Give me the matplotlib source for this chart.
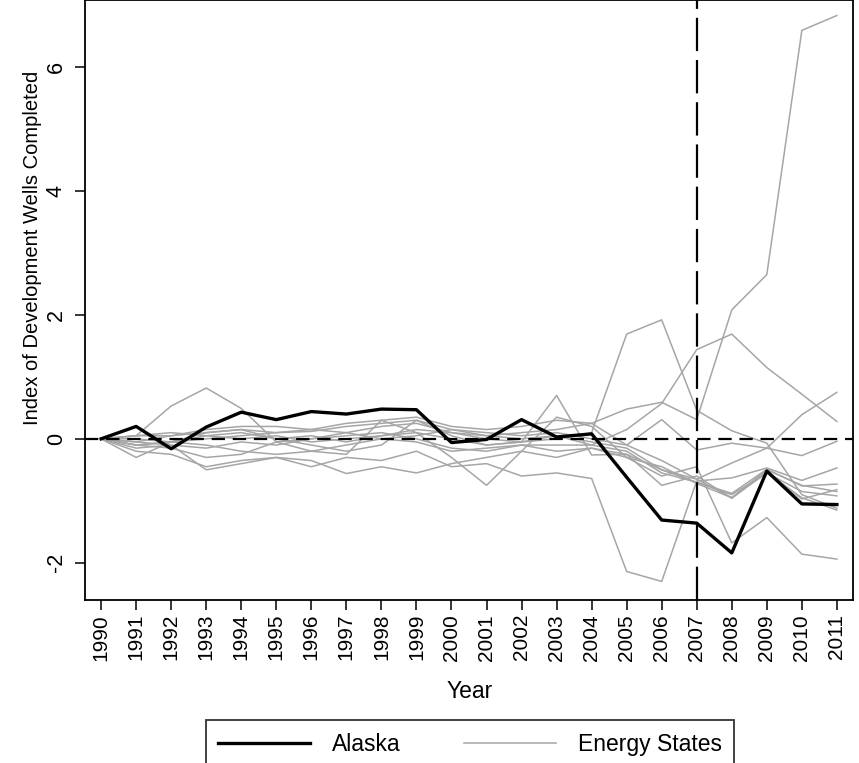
import numpy as np
import matplotlib
matplotlib.use("Agg")
import matplotlib.pyplot as plt

plt.rcParams['font.family'] = ['Liberation Sans', 'DejaVu Sans']

years = list(range(1990, 2012))

alaska = [0, 0.20, -0.16, 0.19, 0.43, 0.31, 0.44, 0.40, 0.48, 0.47, -0.06, -0.01,
          0.31, 0.03, 0.08, -0.62, -1.31, -1.36, -1.84, -0.52, -1.05, -1.06]

# comparison "energy states" (grey lines)
state_01 = [0, -0.05, 0.05, 0.10, 0.15, 0.10, 0.12, 0.20, 0.25, 0.30, 0.15, 0.05,
            0.10, 0.15, 0.25, 0.48, 0.59, 0.31, 2.08, 2.65, 6.59, 6.83]
state_02 = [0, -0.10, -0.05, 0.05, 0.00, 0.05, -0.05, 0.00, 0.05, 0.10, 0.00, -0.10,
            -0.05, 0.00, 0.10, 1.69, 1.92, 0.46, 0.13, -0.07, -0.90, -1.12]
state_03 = [0, -0.15, -0.10, -0.15, -0.05, -0.10, 0.00, 0.05, 0.10, 0.00, -0.15, -0.20,
            -0.10, -0.10, -0.10, 0.15, 0.57, 1.44, 1.69, 1.15, 0.72, 0.28]
state_04 = [0, -0.20, -0.25, -0.45, -0.35, -0.30, -0.45, -0.30, -0.35, -0.20, -0.45, -0.40,
            -0.60, -0.55, -0.64, -2.14, -2.30, -0.68, -0.63, -0.47, -0.67, -0.47]
state_05 = [0, -0.10, -0.05, -0.10, -0.20, -0.25, -0.20, -0.10, 0.00, -0.05, -0.20, -0.15,
            -0.10, -0.20, -0.15, -0.30, -0.60, -0.45, -1.68, -1.27, -1.86, -1.94]
state_06 = [0, 0.05, 0.10, 0.05, 0.10, 0.00, 0.05, -0.05, 0.05, 0.15, 0.10, 0.05,
            0.00, 0.05, -0.05, -0.15, -0.50, -0.65, -0.39, -0.15, 0.39, 0.75]
state_07 = [0, 0.00, -0.05, 0.00, 0.05, 0.10, 0.15, 0.10, 0.00, 0.05, 0.15, 0.10,
            0.05, 0.10, 0.00, -0.10, 0.31, -0.18, -0.07, -0.15, -0.27, -0.04]
state_08 = [0, 0.05, 0.53, 0.82, 0.49, -0.05, 0.00, 0.10, 0.20, 0.25, 0.10, 0.00,
            -0.05, 0.05, -0.10, -0.20, -0.55, -0.70, -0.88, -0.49, -0.76, -0.73]
state_09 = [0, -0.30, -0.05, 0.10, 0.15, 0.00, -0.10, -0.20, -0.10, 0.30, 0.05, -0.10,
            -0.05, 0.70, -0.26, -0.25, -0.75, -0.60, -0.96, -0.53, -0.97, -0.82]
state_10 = [0, -0.10, -0.15, -0.30, -0.25, -0.05, -0.20, -0.25, 0.30, 0.10, -0.30, -0.75,
            -0.20, 0.35, 0.20, -0.30, -0.45, -0.72, -0.95, -0.55, -0.85, -0.92]
state_11 = [0, -0.05, -0.10, -0.50, -0.40, -0.30, -0.35, -0.56, -0.45, -0.55, -0.40, -0.30,
            -0.20, -0.30, -0.15, -0.25, -0.50, -0.70, -0.90, -0.55, -0.95, -1.15]
state_12 = [0, 0.05, 0.05, 0.15, 0.20, 0.20, 0.15, 0.25, 0.30, 0.35, 0.20, 0.15,
            0.20, 0.30, 0.25, -0.10, -0.35, -0.65, -0.95, -0.50, -0.75, -0.85]

energy_states = [state_01, state_02, state_03, state_04, state_05, state_06,
                 state_07, state_08, state_09, state_10, state_11, state_12]

treat_year = 2007
grey = "#a6a6a6"

fig = plt.figure(figsize=(8.59, 7.63), dpi=100)
ax = fig.add_axes([85/859, 1 - 600/763, (853 - 85)/859, 600/763])

for i, s in enumerate(energy_states):
    ax.plot(years, s, color=grey, lw=1.1, label="Energy States" if i == 0 else None, zorder=2)

ax.axhline(0, color="black", lw=1.6, ls=(0, (6, 3.5)), zorder=3)
ax.axvline(treat_year, color="black", lw=1.6, ls=(0, (15, 4)), zorder=3)
ax.plot(years, alaska, color="black", lw=2.4, label="Alaska", zorder=4)

ax.set_xlim(1989.54, 2011.46)
ax.set_ylim(-2.6, 7.08)
ax.set_xticks(years)
ax.set_xticklabels([str(y) for y in years], rotation=90, fontsize=15)
ax.set_yticks([-2, 0, 2, 4, 6])
ax.set_yticklabels(["-2", "0", "2", "4", "6"], rotation=90, va="center", fontsize=15.5)
ax.tick_params(direction="out", length=7, width=1.1)
ax.tick_params(axis="x", pad=3)
ax.tick_params(axis="y", pad=6)
for sp in ax.spines.values():
    sp.set_linewidth(1.3)

ax.set_xlabel("Year", fontsize=16.5)
ax.xaxis.set_label_coords((470 - 85) / 768, (600 - 692) / 600)
ax.xaxis.label.set_va("center")
ax.set_ylabel("Index of Development Wells Completed", fontsize=14.5)
ax.yaxis.set_label_coords((33 - 85) / 768, (600 - 248) / 600)
ax.yaxis.label.set_va("center")

h, l = ax.get_legend_handles_labels()
leg = fig.legend([h[1], h[0]], [l[1], l[0]], loc="upper center",
                 bbox_to_anchor=(470/859, 1 - 720/763), ncol=2, fontsize=16.5,
                 frameon=True, fancybox=False, edgecolor="black",
                 handlelength=4.0, handletextpad=0.95, columnspacing=2.8,
                 borderpad=0.55, borderaxespad=0)
leg.get_frame().set_linewidth(1.3)

fig.savefig("out.png", dpi=100)
